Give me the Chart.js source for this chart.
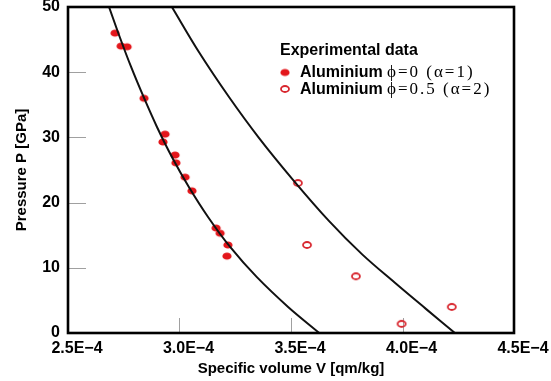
<!DOCTYPE html>
<html><head><meta charset="utf-8">
<script src="https://cdn.jsdelivr.net/npm/chart.js@4.4.0/dist/chart.umd.min.js"></script>
<style>html,body{margin:0;padding:0;background:#fff;overflow:hidden;}</style>
</head><body>
<canvas id="c" width="551" height="381"></canvas>
<script>
// ---- data ----
const xTickValues = [2.5e-4, 3.0e-4, 3.5e-4, 4.0e-4, 4.5e-4];
const xTickLabels = ['2.5E−4', '3.0E−4', '3.5E−4', '4.0E−4', '4.5E−4'];
const yTickValues = [0, 10, 20, 30, 40, 50];
const yTickLabels = ['0', '10', '20', '30', '40', '50'];

// Experimental data, Aluminium phi=0 (alpha=1)
const solidV = [2.711e-4, 2.738e-4, 2.765e-4, 2.841e-4, 2.935e-4, 2.926e-4, 2.980e-4, 2.984e-4, 3.025e-4, 3.056e-4, 3.164e-4, 3.182e-4, 3.217e-4, 3.213e-4];
const solidP = [46.0, 44.0, 43.9, 36.0, 30.5, 29.3, 27.3, 26.1, 23.9, 21.8, 16.1, 15.3, 13.5, 11.8];

// Experimental data, Aluminium phi=0.5 (alpha=2)
const porousV = [3.531e-4, 3.572e-4, 3.791e-4, 3.996e-4, 4.221e-4];
const porousP = [23.0, 13.5, 8.7, 1.4, 4.0];

// Model curve for alpha=1
const curve1V = [2.684e-4, 2.732e-4, 2.783e-4, 2.839e-4, 2.899e-4, 2.966e-4, 3.042e-4, 3.128e-4, 3.227e-4, 3.346e-4, 3.487e-4, 3.627e-4];
const curve1P = [50.0, 45.4, 40.8, 36.2, 31.6, 27.0, 22.4, 17.8, 13.2, 8.6, 4.0, 0.0];

// Model curve for alpha=2
const curve2V = [2.966e-4, 3.087e-4, 3.222e-4, 3.357e-4, 3.509e-4, 3.670e-4, 3.818e-4, 3.966e-4, 4.105e-4, 4.235e-4];
const curve2P = [50.0, 43.1, 36.2, 29.9, 23.5, 17.2, 12.1, 7.7, 3.7, 0.0];

const legendTitle = 'Experimental data';
const legendNames = ['Aluminium', 'Aluminium'];
const legendParams = ['ϕ=0 (α=1)', 'ϕ=0.5 (α=2)'];

// ---- helpers ----
const zip = (xs, ys) => xs.map((v, i) => ({ x: v, y: ys[i] }));
const RED = '#e3161b';
const RED_RING = '#d8262e';

function ellipseImg(filled) {
  const c = document.createElement('canvas');
  c.width = 12; c.height = 10;
  const g = c.getContext('2d');
  g.beginPath();
  if (filled) {
    g.ellipse(6, 5, 4.6, 3.6, 0, 0, Math.PI * 2);
    g.fillStyle = RED; g.fill();
  } else {
    g.ellipse(6, 5, 4.0, 3.0, 0, 0, Math.PI * 2);
    g.strokeStyle = RED_RING; g.lineWidth = 1.8; g.stroke();
  }
  return c;
}

const framePlugin = {
  id: 'frame',
  beforeDatasetsDraw(chart) {
    const { ctx, chartArea: a, scales: { x, y } } = chart;
    ctx.save();
    ctx.strokeStyle = '#a0a0a0';
    ctx.lineWidth = 1;
    yTickValues.slice(1, -1).forEach(v => {
      const py = Math.round(y.getPixelForValue(v)) + 0.5;
      ctx.beginPath(); ctx.moveTo(a.left, py); ctx.lineTo(a.left + 18, py); ctx.stroke();
    });
    xTickValues.slice(1, -1).forEach(v => {
      const px = Math.round(x.getPixelForValue(v)) + 0.5;
      ctx.beginPath(); ctx.moveTo(px, a.bottom); ctx.lineTo(px, a.bottom - 15); ctx.stroke();
    });
    ctx.restore();
  },
  afterDatasetsDraw(chart) {
    const { ctx, chartArea: a } = chart;
    ctx.save();
    ctx.strokeStyle = '#000';
    ctx.lineWidth = 2.6;
    ctx.strokeRect(a.left, a.top, a.right - a.left, a.bottom - a.top);
    ctx.restore();
  },
  afterDraw(chart) {
    const ctx = chart.ctx;
    ctx.save();
    ctx.fillStyle = '#000';
    ctx.textBaseline = 'alphabetic';
    ctx.font = 'bold 16px "Liberation Sans", Arial, sans-serif';
    ctx.fillText(legendTitle, 280, 55);
    const rows = [72.5, 89];
    rows.forEach((cy, i) => {
      ctx.drawImage(ellipseImg(i === 0), 285 - 6, cy - 5);
      ctx.fillStyle = '#000';
      ctx.font = 'bold 16px "Liberation Sans", Arial, sans-serif';
      ctx.letterSpacing = '0px';
      ctx.fillText(legendNames[i], 300, cy + 4.5);
      ctx.font = '17px "Liberation Serif", "Times New Roman", serif';
      ctx.letterSpacing = '2px';
      ctx.fillText(legendParams[i], 387, cy + 4.5);
    });
    ctx.letterSpacing = '0px';
    ctx.restore();
  }
};

new Chart(document.getElementById('c'), {
  type: 'scatter',
  data: {
    datasets: [
      { label: 'alpha=1 model', data: zip(curve1V, curve1P), showLine: true, borderColor: '#111', borderWidth: 2, pointRadius: 0, tension: 0.35, fill: false },
      { label: 'alpha=2 model', data: zip(curve2V, curve2P), showLine: true, borderColor: '#111', borderWidth: 2, pointRadius: 0, tension: 0.35, fill: false },
      { label: 'Aluminium ϕ=0 (α=1)', data: zip(solidV, solidP), pointStyle: ellipseImg(true), pointRadius: 5, showLine: false },
      { label: 'Aluminium ϕ=0.5 (α=2)', data: zip(porousV, porousP), pointStyle: ellipseImg(false), pointRadius: 5, showLine: false }
    ]
  },
  options: {
    responsive: false,
    animation: false,
    devicePixelRatio: 1,
    layout: { padding: { left: 0, top: 7, right: 37, bottom: 0 } },
    plugins: { legend: { display: false }, tooltip: { enabled: false } },
    scales: {
      x: {
        type: 'linear',
        min: xTickValues[0], max: xTickValues[xTickValues.length - 1],
        afterBuildTicks: s => { s.ticks = xTickValues.map(v => ({ value: v })); },
        afterFit: s => { s.height = 48; s.paddingLeft = 0; s.paddingRight = 0; },
        grid: { display: false, drawTicks: false },
        border: { display: false },
        ticks: {
          callback: (v, i) => xTickLabels[i],
          color: '#000', padding: 6, labelOffset: 9, maxRotation: 0, autoSkip: false,
          font: { family: '"Liberation Sans", Arial, sans-serif', size: 16, weight: 'bold' }
        },
        title: {
          display: true, text: 'Specific volume V [qm/kg]', color: '#000',
          padding: { top: 0, bottom: 3 },
          font: { family: '"Liberation Sans", Arial, sans-serif', size: 15, weight: 'bold' }
        }
      },
      y: {
        type: 'linear',
        min: yTickValues[0], max: yTickValues[yTickValues.length - 1],
        afterBuildTicks: s => { s.ticks = yTickValues.map(v => ({ value: v })); },
        afterFit: s => { s.width = 68; s.paddingTop = 0; s.paddingBottom = 0; },
        grid: { display: false, drawTicks: false },
        border: { display: false },
        ticks: {
          callback: (v, i) => yTickLabels[i],
          color: '#000', padding: 8, autoSkip: false,
          font: { family: '"Liberation Sans", Arial, sans-serif', size: 16, weight: 'bold' }
        },
        title: {
          display: true, text: 'Pressure P [GPa]', color: '#000',
          padding: { top: 13, bottom: 0 },
          font: { family: '"Liberation Sans", Arial, sans-serif', size: 15, weight: 'bold' }
        }
      }
    }
  },
  plugins: [framePlugin]
});
</script>
</body></html>
